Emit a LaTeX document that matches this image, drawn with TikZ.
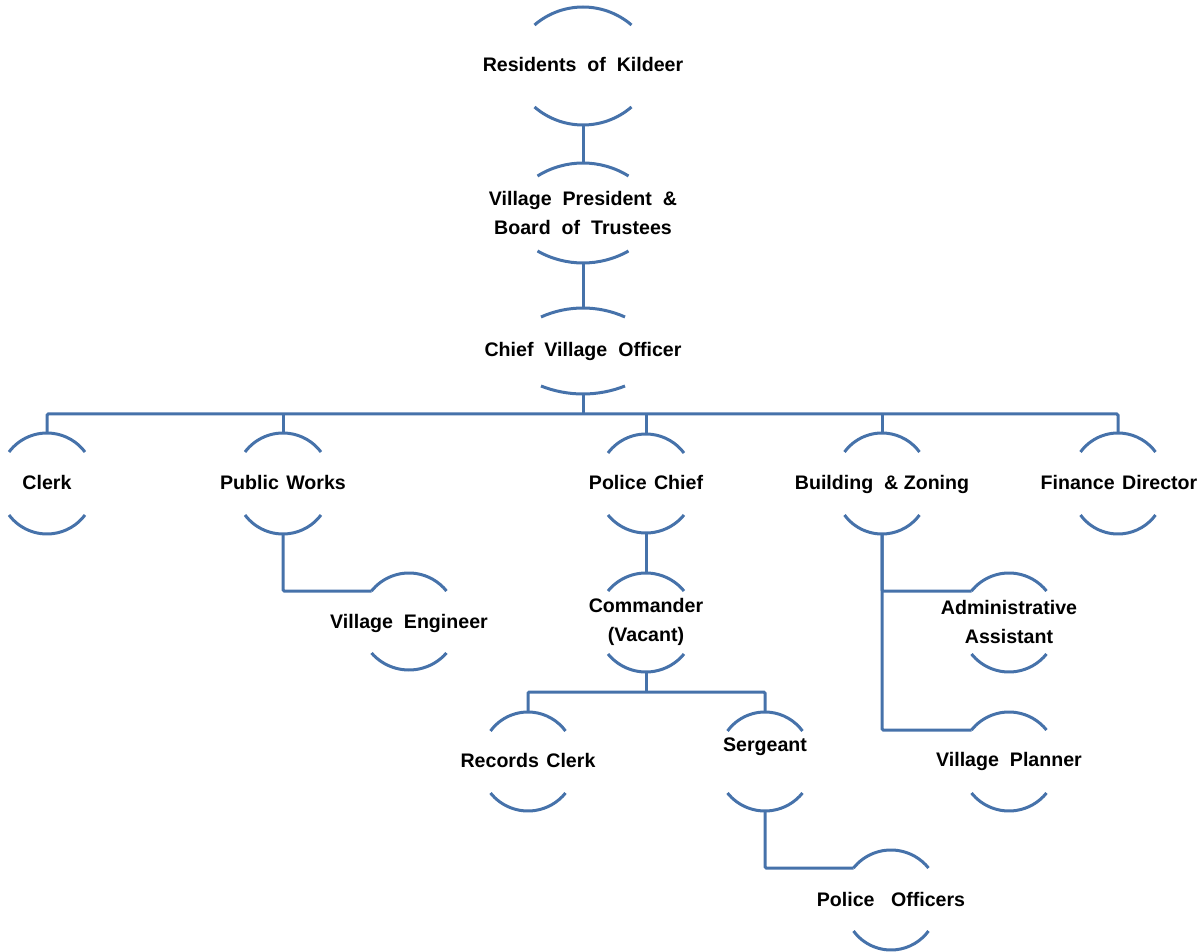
\documentclass[tikz,border=0pt]{standalone}
\usepackage{fontspec}
\setmainfont{Liberation Sans}
\definecolor{lineblue}{HTML}{4672AA}
\tikzset{
  conn/.style={draw=lineblue, line width=2.25pt, rounded corners=1pt},
  arcline/.style={draw=lineblue, line width=2.25pt},
  lbl/.style={align=center, inner sep=0pt, text=black, font=\bfseries\fontsize{14.7}{22}\selectfont},
  lbl1/.style={lbl, text height=1.0em, text depth=0pt},
}
\newcommand\xs{\hspace{0.28em}}
% name, cx, ytop, ybot, halfwidth, sagitta top, sagitta bottom
\newcommand\drawarcs[7]{%
  \pgfmathsetmacro\myRt{(#5*#5+#6*#6)/(2*#6)}%
  \pgfmathsetmacro\myAt{asin(#5/\myRt)}%
  \pgfmathsetmacro\myRb{(#5*#5+#7*#7)/(2*#7)}%
  \pgfmathsetmacro\myAb{asin(#5/\myRb)}%
  \coordinate (#1-t) at (#2,#3);
  \coordinate (#1-b) at (#2,#4);
  \coordinate (#1-l) at (#2-#5,#3+#6);
  \draw[arcline] (#1-l) arc[start angle=270-\myAt, end angle=270+\myAt, radius=\myRt];
  \draw[arcline] (#2-#5,#4-#7) arc[start angle=90+\myAb, end angle=90-\myAb, radius=\myRb];
}
\begin{document}
\begin{tikzpicture}[x=0.75pt,y=-0.75pt]
\useasboundingbox (0,0) rectangle (1204,952);

% arcs
\drawarcs{res}{583}{7}{125}{48.5}{18}{18}
\drawarcs{vp}{583}{163}{263}{45.5}{13}{12}
\drawarcs{cvo}{583}{308}{394}{42}{9}{8}
\drawarcs{clerk}{47}{433}{534}{38}{19}{19}
\drawarcs{pw}{283}{433}{534}{38}{19}{19}
\drawarcs{pc}{646}{434}{533}{38}{19}{18}
\drawarcs{bz}{882}{433}{534}{37.5}{19}{19}
\drawarcs{fin}{1118}{433}{534}{37.5}{19}{19}
\drawarcs{ve}{409}{573}{670}{37.5}{18}{17}
\drawarcs{cmd}{646}{573}{672}{38}{18}{18}
\drawarcs{aa}{1009}{573}{672}{37.5}{18}{18}
\drawarcs{rc}{528}{712}{811}{37.5}{19}{18}
\drawarcs{sg}{765}{712}{811}{37.5}{19}{18}
\drawarcs{vpl}{1009}{712}{811}{37.5}{18}{18}
\drawarcs{po}{891}{850}{950}{37.5}{18}{19}

% labels
\node[lbl1] (res) at (583,65) {Residents\xs\ of\xs\ Kildeer};
\node[lbl] (vp) at (583,213) {Village\xs\ President\xs\ \&\\Board\xs\ of\xs\ Trustees};
\node[lbl1] (cvo) at (583,350) {Chief\xs\ Village\xs\ Officer};
\node[lbl1] (clerk) at (47,483) {Clerk};
\node[lbl1] (pw) at (283,483) {Public\hspace{0.1em} Works};
\node[lbl1] (pc) at (646,483) {Police\hspace{0.1em} Chief};
\node[lbl1] (bz) at (882,483) {Building\xs\ \& Zoning};
\node[lbl1] (fin) at (1119,483) {Finance\hspace{0.1em} Director};
\node[lbl1] (ve) at (409,622) {Village\xs\ Engineer};
\node[lbl] (cmd) at (646,622) {Commander\\(Vacant)};
\node[lbl] (aa) at (1009,622) {Administrative\\Assistant};
\node[lbl1] (rc) at (528,761) {Records\hspace{0.1em} Clerk};
\node[lbl1] (sg) at (765,745) {Sergeant};
\node[lbl1] (vpl) at (1009,760) {Village\xs\ Planner};
\node[lbl1] (po) at (891,900) {Police\xs\xs\ Officers};

% connectors
\coordinate (bar) at (583,414);
\coordinate (bar2) at (646,692);
\draw[conn] (res-b) -- (vp-t);
\draw[conn] (vp-b) -- (cvo-t);
\draw[conn] (cvo-b) -- (bar);
\draw[conn] (clerk-t) |- (bar) -| (fin-t);
\draw[conn] (pw-t) -- (pw-t |- bar);
\draw[conn] (pc-t) -- (pc-t |- bar);
\draw[conn] (bz-t) -- (bz-t |- bar);
\draw[conn] (pw-b) |- (ve-l);
\draw[conn] (pc-b) -- (cmd-t);
\draw[conn] (cmd-b) -- (bar2);
\draw[conn] (rc-t) |- (bar2) -| (sg-t);
\draw[conn] (sg-b) |- (po-l);
\draw[conn] (bz-b) |- (aa-l);
\draw[conn] (bz-b) |- (vpl-l);
\end{tikzpicture}
\end{document}
